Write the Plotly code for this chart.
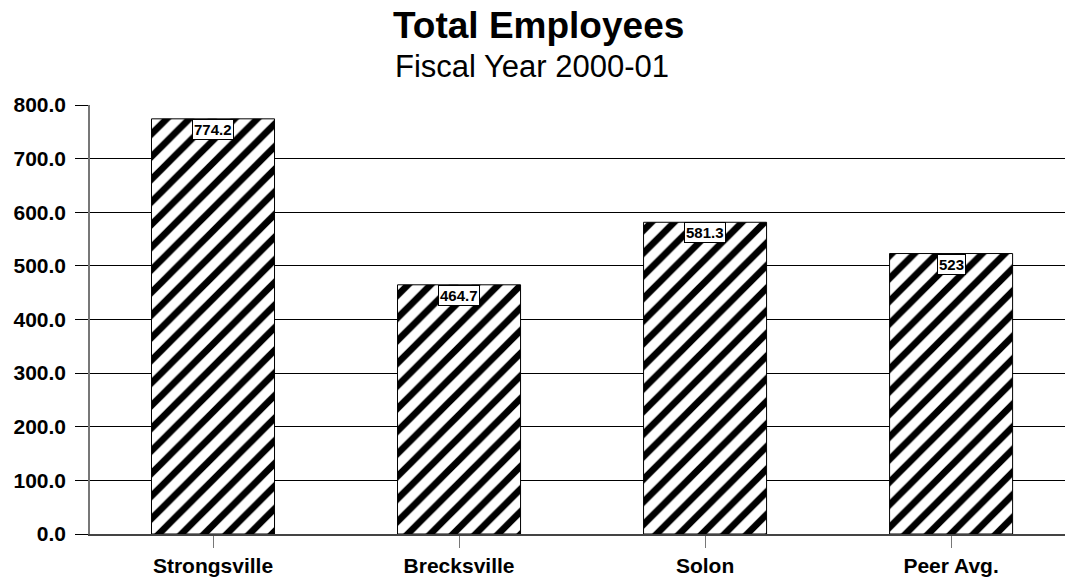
import plotly.graph_objects as go

# Staffing data, fiscal year 2000-01
districts = ["Strongsville", "Brecksville", "Solon", "Peer Avg."]
employees = [774.2, 464.7, 581.3, 523]
y_ticks = [0, 100, 200, 300, 400, 500, 600, 700, 800]
y_tick_labels = [f"{t:.1f}" for t in y_ticks]

FONT = "Liberation Sans, Arial, sans-serif"

fig = go.Figure()

fig.add_trace(go.Bar(
    x=districts,
    y=employees,
    width=0.5,
    marker=dict(
        color="white",
        line=dict(color="black", width=1),
        pattern=dict(shape="/", fgcolor="black", fgopacity=1, bgcolor="white",
                     size=16, solidity=0.42, fillmode="replace"),
    ),
    hoverinfo="x+y",
))

# Boxed value labels hanging from the top of each bar
for name, val in zip(districts, employees):
    fig.add_annotation(
        x=name, y=val, xref="x", yref="y",
        text=f"{val:g}", showarrow=False,
        yanchor="top", xanchor="center",
        font=dict(family=FONT, size=15, color="black", weight="bold"),
        bgcolor="white", bordercolor="black", borderwidth=1, borderpad=1,
    )

# Title and subtitle
fig.add_annotation(
    x=0.4605, y=1.186, xref="paper", yref="paper",
    text="Total Employees", showarrow=False,
    xanchor="center", yanchor="middle",
    font=dict(family=FONT, size=37, color="black", weight="bold"),
)
fig.add_annotation(
    x=0.4538, y=1.089, xref="paper", yref="paper",
    text="Fiscal Year 2000-01", showarrow=False,
    xanchor="center", yanchor="middle",
    font=dict(family=FONT, size=31, color="black"),
)

fig.update_layout(
    width=1065, height=581,
    margin=dict(l=90, r=0, t=105, b=47, pad=0),
    paper_bgcolor="white", plot_bgcolor="white",
    showlegend=False,
    bargap=0.5,
    font=dict(family=FONT, color="black"),
)

fig.update_xaxes(
    range=[-0.5, 3.463],
    showgrid=False,
    showline=True, linecolor="#444444", linewidth=1.5,
    ticks="outside", ticklen=12, tickcolor="#777777", tickwidth=1,
    tickfont=dict(family=FONT, size=21, color="black", weight="bold"),
    fixedrange=True,
)

fig.update_yaxes(
    range=[0, 800],
    tickvals=y_ticks, ticktext=y_tick_labels,
    showgrid=True, gridcolor="black", gridwidth=1,
    zeroline=False,
    showline=True, linecolor="#777777", linewidth=1.5,
    ticks="outside", ticklen=13, tickcolor="black", tickwidth=1,
    ticklabelstandoff=5,
    tickfont=dict(family=FONT, size=21, color="black", weight="bold"),
    fixedrange=True,
)

fig.write_html("out.html")
